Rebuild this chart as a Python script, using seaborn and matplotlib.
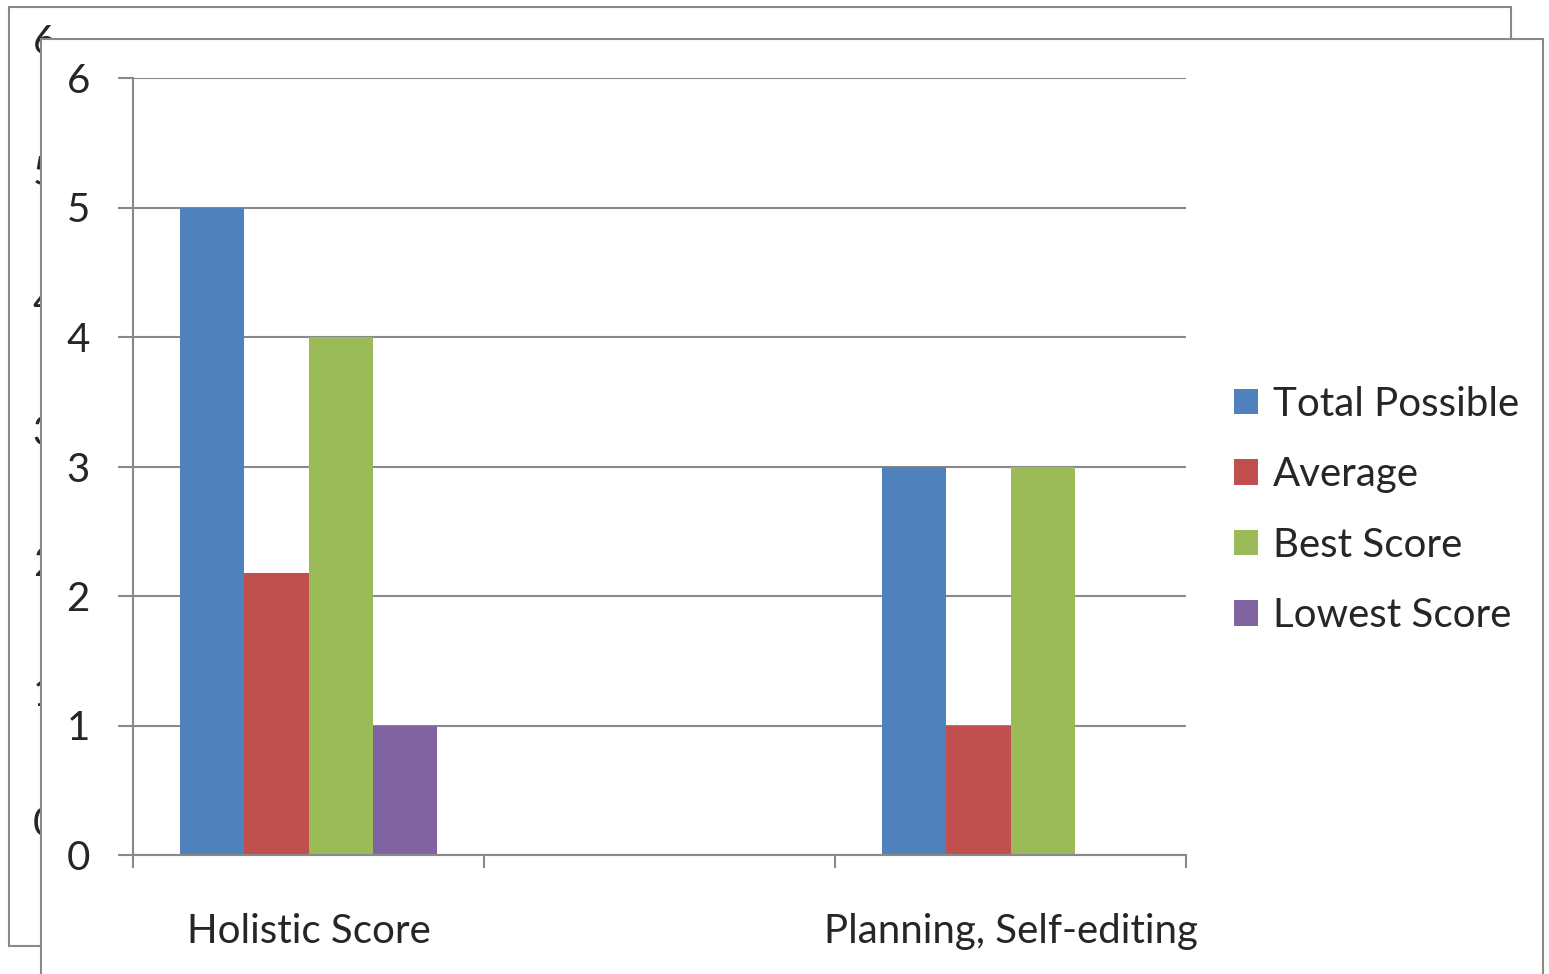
import matplotlib
matplotlib.use("Agg")
import matplotlib.pyplot as plt
from matplotlib.patches import Rectangle
import pandas as pd
import seaborn as sns

# chart data
categories = ["Holistic Score", " ", "Planning, Self-editing"]
series = ["Total Possible", "Average", "Best Score", "Lowest Score"]
holistic = [5, 2.18, 4, 1]
planning = [3, 1, 3, 0]
colors = ["#4F81BD", "#C0504D", "#9BBB59", "#8064A2"]
y_ticks = [0, 1, 2, 3, 4, 5, 6]

rows = []
for s, v in zip(series, holistic):
    rows.append({"category": categories[0], "series": s, "value": v})
for s, v in zip(series, planning):
    rows.append({"category": categories[2], "series": s, "value": v})
df = pd.DataFrame(rows)

sns.set_style("white")
plt.rcParams["font.family"] = ["Lato", "DejaVu Sans"]

W, H = 1549, 974
fig = plt.figure(figsize=(W / 100, H / 100), dpi=100)
grey = "#898989"
fs = 29

def px(x, y):
    return x / W, 1 - y / H

# chart pasted behind (mostly hidden)
x0, y0 = px(9, 946)
fig.patches.append(Rectangle((x0, y0), (1511 - 9) / W, (946 - 7) / H,
                             transform=fig.transFigure, facecolor="white",
                             edgecolor=grey, lw=1.5, zorder=-5))
for i, t in enumerate(y_ticks[::-1]):
    fx, fy = px(56, 43 + 130.3 * i)
    fig.text(fx, fy, str(t), ha="right", va="center", fontsize=fs, zorder=-4)

# front chart frame
x1, y1 = px(41, 990)
fig.patches.append(Rectangle((x1, y1), (1543 - 41) / W, (990 - 39) / H,
                             transform=fig.transFigure, facecolor="white",
                             edgecolor=grey, lw=1.5, zorder=-3))

ax = fig.add_axes([133 / W, 1 - 855 / H, (1186 - 133) / W, (855 - 78) / H])
ax.set_facecolor("none")

sns.barplot(data=df, x="category", y="value", hue="series", order=categories,
            hue_order=series, palette=colors, width=0.73, saturation=1,
            linewidth=0, ax=ax)

ax.set_xlim(-0.5, 2.5)
ax.set_ylim(0, 6)
ax.set_yticks(y_ticks)
ax.yaxis.grid(True, color=grey, lw=1.5)
ax.set_axisbelow(True)
ax.tick_params(axis="y", which="major", left=True, length=11, width=1.5,
               color=grey, labelsize=fs, pad=20)

# category boundaries get the tick marks, names sit in the middle
ax.set_xticks([-0.5, 0.5, 1.5, 2.5])
ax.set_xticklabels([])
ax.set_xticks([0, 1, 2], minor=True)
ax.set_xticklabels(categories, minor=True)
ax.tick_params(axis="x", which="major", bottom=True, length=9, width=1.5, color=grey)
ax.tick_params(axis="x", which="minor", bottom=False, length=0, labelsize=fs, pad=42)

for side in ["top", "right"]:
    ax.spines[side].set_visible(False)
for side in ["left", "bottom"]:
    ax.spines[side].set_color(grey)
    ax.spines[side].set_linewidth(1.5)

ax.set_xlabel("")
ax.set_ylabel("")

handles, labels = ax.get_legend_handles_labels()
ax.legend(handles, labels, loc="center left", bbox_to_anchor=(1198 / W, 1 - 510 / H),
          bbox_transform=fig.transFigure, frameon=False, fontsize=fs,
          handlelength=0.6, handleheight=0.6, handletextpad=0.35, labelspacing=0.83)

fig.savefig("out.png", dpi=100)
